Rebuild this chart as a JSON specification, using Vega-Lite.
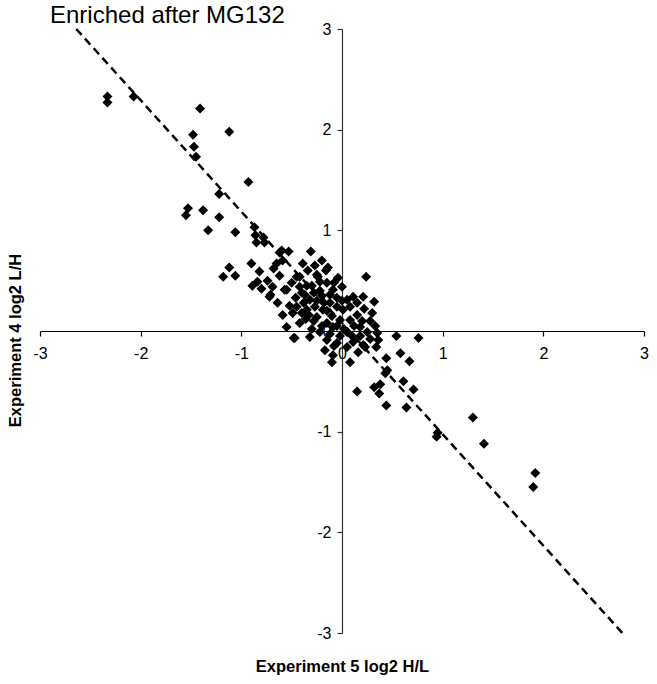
{
  "$schema": "https://vega.github.io/schema/vega-lite/v6.json",
  "width": 604,
  "height": 604,
  "autosize": {"type": "none"},
  "padding": {"left": 40, "top": 29, "right": 13, "bottom": 51},
  "background": "white",
  "config": {
    "view": {"stroke": null},
    "font": "Liberation Sans"
  },
  "title": {
    "text": "Enriched after MG132",
    "anchor": "start",
    "frame": "group",
    "dx": 10,
    "offset": -26,
    "baseline": "alphabetic",
    "fontSize": 24,
    "fontWeight": "normal",
    "font": "Liberation Sans",
    "color": "black"
  },
  "datasets": {
    "pts": [
      {"x": -2.33, "y": 2.33}, {"x": -2.33, "y": 2.27}, {"x": -2.07, "y": 2.33}, {"x": -1.41, "y": 2.21},
      {"x": -1.48, "y": 1.95}, {"x": -1.12, "y": 1.98}, {"x": -1.47, "y": 1.83}, {"x": -1.45, "y": 1.73},
      {"x": -0.93, "y": 1.48}, {"x": -1.22, "y": 1.36}, {"x": -1.53, "y": 1.22}, {"x": -1.55, "y": 1.15},
      {"x": -1.38, "y": 1.2}, {"x": -1.22, "y": 1.13}, {"x": -1.33, "y": 1.0}, {"x": -1.06, "y": 0.98},
      {"x": -0.87, "y": 1.03}, {"x": -0.86, "y": 0.95}, {"x": -0.78, "y": 0.93}, {"x": -0.85, "y": 0.88},
      {"x": -0.77, "y": 0.88}, {"x": -0.6, "y": 0.8}, {"x": -0.53, "y": 0.79}, {"x": -0.59, "y": 0.7},
      {"x": -0.65, "y": 0.67}, {"x": -0.31, "y": 0.79}, {"x": -0.2, "y": 0.7}, {"x": -0.14, "y": 0.63},
      {"x": -0.39, "y": 0.67}, {"x": -0.9, "y": 0.67}, {"x": -1.12, "y": 0.63}, {"x": -1.18, "y": 0.54},
      {"x": -1.06, "y": 0.55}, {"x": -0.82, "y": 0.59}, {"x": -0.89, "y": 0.45}, {"x": -0.84, "y": 0.49},
      {"x": -0.8, "y": 0.42}, {"x": -0.69, "y": 0.44}, {"x": -0.71, "y": 0.36}, {"x": -0.64, "y": 0.28},
      {"x": -0.59, "y": 0.16}, {"x": -0.55, "y": 0.04}, {"x": -0.47, "y": -0.07}, {"x": -0.32, "y": -0.06},
      {"x": -0.55, "y": 0.41}, {"x": -0.5, "y": 0.48}, {"x": -0.42, "y": 0.54}, {"x": -0.04, "y": 0.53},
      {"x": -0.24, "y": 0.54}, {"x": -0.72, "y": 0.34}, {"x": -0.57, "y": 0.41}, {"x": -0.62, "y": 0.78},
      {"x": -0.45, "y": 0.54}, {"x": -0.42, "y": 0.44}, {"x": -0.25, "y": 0.56}, {"x": -0.22, "y": 0.49},
      {"x": -0.15, "y": 0.48}, {"x": -0.09, "y": 0.41}, {"x": 0.0, "y": 0.44}, {"x": -0.37, "y": 0.36},
      {"x": -0.32, "y": 0.31}, {"x": -0.27, "y": 0.24}, {"x": -0.35, "y": 0.21}, {"x": -0.45, "y": 0.24},
      {"x": -0.49, "y": 0.18}, {"x": -0.42, "y": 0.08}, {"x": -0.25, "y": 0.14}, {"x": -0.19, "y": 0.21},
      {"x": -0.12, "y": 0.28}, {"x": -0.05, "y": 0.24}, {"x": 0.01, "y": 0.21}, {"x": -0.15, "y": 0.08},
      {"x": -0.09, "y": 0.04}, {"x": -0.02, "y": 0.11}, {"x": 0.08, "y": 0.11}, {"x": 0.15, "y": 0.16},
      {"x": 0.18, "y": 0.04}, {"x": 0.25, "y": -0.01}, {"x": 0.05, "y": -0.01}, {"x": -0.22, "y": -0.01},
      {"x": -0.15, "y": -0.09}, {"x": -0.05, "y": -0.12}, {"x": 0.11, "y": -0.11}, {"x": 0.21, "y": -0.14},
      {"x": 0.05, "y": -0.16}, {"x": 0.24, "y": 0.54}, {"x": 0.21, "y": 0.34}, {"x": 0.32, "y": 0.29},
      {"x": 0.11, "y": 0.34}, {"x": 0.05, "y": 0.31}, {"x": 0.08, "y": 0.24}, {"x": 0.33, "y": 0.05},
      {"x": 0.35, "y": -0.02}, {"x": 0.36, "y": -0.09}, {"x": 0.54, "y": -0.05}, {"x": 0.76, "y": -0.07},
      {"x": -0.48, "y": -0.07}, {"x": 0.58, "y": -0.22}, {"x": 0.67, "y": -0.3}, {"x": 0.44, "y": -0.27},
      {"x": 0.34, "y": -0.16}, {"x": 0.23, "y": -0.16}, {"x": 0.16, "y": -0.21}, {"x": 0.08, "y": -0.31},
      {"x": -0.1, "y": -0.31}, {"x": -0.09, "y": -0.24}, {"x": -0.17, "y": -0.19}, {"x": 0.45, "y": -0.39},
      {"x": 0.43, "y": -0.42}, {"x": 0.61, "y": -0.5}, {"x": 0.38, "y": -0.53}, {"x": 0.32, "y": -0.56},
      {"x": 0.37, "y": -0.62}, {"x": 0.71, "y": -0.58}, {"x": 0.15, "y": -0.6}, {"x": 0.44, "y": -0.74},
      {"x": 0.64, "y": -0.76}, {"x": 1.3, "y": -0.86}, {"x": 0.94, "y": -1.05}, {"x": 0.95, "y": -1.01},
      {"x": 1.41, "y": -1.12}, {"x": 1.92, "y": -1.41}, {"x": 1.9, "y": -1.55},
      {"x": -0.3, "y": 0.45}, {"x": -0.28, "y": 0.38}, {"x": -0.2, "y": 0.35}, {"x": -0.12, "y": 0.36},
      {"x": -0.05, "y": 0.33}, {"x": -0.18, "y": 0.28}, {"x": -0.25, "y": 0.3}, {"x": -0.38, "y": 0.28},
      {"x": -0.33, "y": 0.16}, {"x": -0.28, "y": 0.1}, {"x": -0.2, "y": 0.05}, {"x": -0.1, "y": 0.15},
      {"x": -0.05, "y": 0.05}, {"x": 0.02, "y": 0.02}, {"x": -0.12, "y": -0.03}, {"x": -0.3, "y": 0.02},
      {"x": -0.36, "y": 0.12}, {"x": -0.4, "y": 0.38}, {"x": -0.46, "y": 0.33}, {"x": -0.52, "y": 0.25},
      {"x": 0.12, "y": 0.05}, {"x": 0.18, "y": -0.05}, {"x": 0.28, "y": 0.1}, {"x": 0.22, "y": 0.22},
      {"x": -0.08, "y": 0.48}, {"x": -0.16, "y": 0.6}, {"x": -0.27, "y": 0.65}, {"x": -0.34, "y": 0.6},
      {"x": 0.1, "y": -0.05}, {"x": -0.02, "y": -0.05}, {"x": 0.28, "y": -0.08}, {"x": 0.3, "y": 0.18},
      {"x": -0.62, "y": 0.55}, {"x": -0.68, "y": 0.62}, {"x": -0.74, "y": 0.5},
      {"x": -0.35, "y": 0.45}, {"x": -0.15, "y": 0.2}, {"x": 0.0, "y": 0.3}, {"x": -0.08, "y": -0.15},
      {"x": 0.15, "y": 0.28}, {"x": -0.22, "y": 0.4}, {"x": -0.4, "y": 0.18}, {"x": 0.2, "y": 0.1}
    ],
    "fit": [
      {"x": -2.64, "y": 3.0},
      {"x": 2.785, "y": -3.0}
    ]
  },
  "encoding": {
    "x": {
      "field": "x", "type": "quantitative",
      "scale": {"domain": [-3, 3], "nice": false, "zero": false},
      "axis": {
        "title": "Experiment 5 log2 H/L",
        "values": [-3, -2, -1, 0, 1, 2, 3],
        "labelExpr": "datum.value + ''",
        "offset": -302,
        "grid": false,
        "domainColor": "black",
        "domainWidth": 1.2,
        "tickColor": "black",
        "tickSize": 5,
        "tickWidth": 1.2,
        "labelFontSize": 16,
        "labelColor": "black",
        "labelPadding": 9,
        "labelFlush": false,
        "titleFontSize": 16.5,
        "titleFontWeight": "bold",
        "titleColor": "black",
        "titleBaseline": "middle",
        "titleY": 335
      }
    },
    "y": {
      "field": "y", "type": "quantitative",
      "scale": {"domain": [-3, 3], "nice": false, "zero": false},
      "axis": {
        "title": "Experiment 4 log2 L/H",
        "values": [-3, -2, -1, 0, 1, 2, 3],
        "labelExpr": "datum.value + ''",
        "offset": -302,
        "grid": false,
        "domainColor": "#333333",
        "domainWidth": 1.2,
        "tickColor": "#333333",
        "tickSize": 5,
        "tickWidth": 1.2,
        "labelFontSize": 16,
        "labelColor": "black",
        "labelPadding": 6,
        "labelFlush": false,
        "titleFontSize": 16.5,
        "titleFontWeight": "bold",
        "titleColor": "black",
        "titleBaseline": "middle",
        "titleX": -327,
        "titleY": 311
      }
    }
  },
  "layer": [
    {
      "data": {"name": "fit"},
      "mark": {"type": "line", "color": "black", "strokeWidth": 2.5, "strokeDash": [8, 5]}
    },
    {
      "data": {"name": "pts"},
      "mark": {"type": "point", "shape": "diamond", "filled": true, "color": "black", "opacity": 1, "size": 100}
    }
  ]
}
